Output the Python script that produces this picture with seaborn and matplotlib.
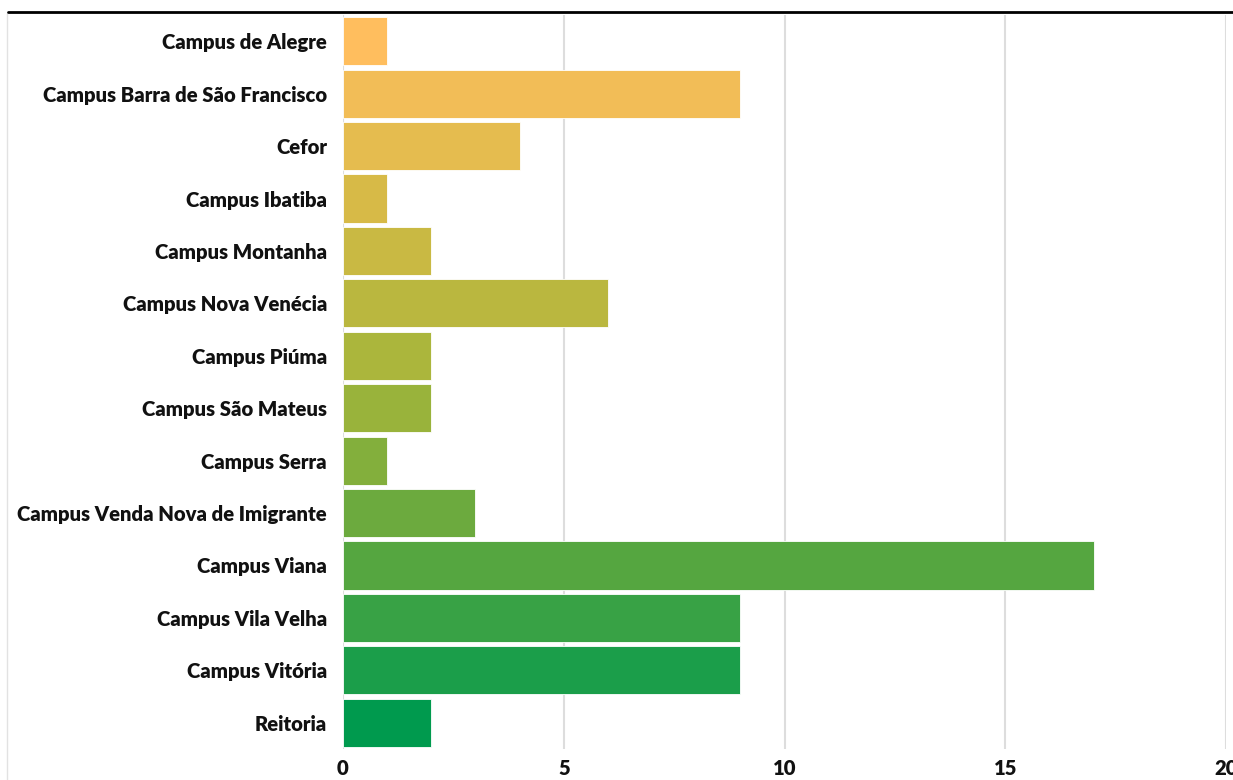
import numpy as np
import pandas as pd
import matplotlib
matplotlib.use("Agg")
import matplotlib.pyplot as plt
from matplotlib.lines import Line2D
import seaborn as sns

# --- data ---
units = [
    "Campus de Alegre",
    "Campus Barra de São Francisco",
    "Cefor",
    "Campus Ibatiba",
    "Campus Montanha",
    "Campus Nova Venécia",
    "Campus Piúma",
    "Campus São Mateus",
    "Campus Serra",
    "Campus Venda Nova de Imigrante",
    "Campus Viana",
    "Campus Vila Velha",
    "Campus Vitória",
    "Reitoria",
]
counts = [1, 9, 4, 1, 2, 6, 2, 2, 1, 3, 17, 9, 9, 2]
x_ticks = [0, 5, 10, 15, 20]

df = pd.DataFrame({"unidade": units, "total": counts})

sns.set_theme(style="white")
plt.rcParams["font.family"] = ["Lato", "DejaVu Sans"]

# orange -> green gradient like the original
pal = sns.blend_palette(["#FFBE5E", "#D4BA45", "#A4B53A", "#5CA73F", "#009A4E"], n_colors=len(units))

fig = plt.figure(figsize=(12.33, 7.8), dpi=100)
ax = fig.add_axes([343 / 1233, 1 - 749 / 780, (1226 - 343) / 1233, (749 - 15) / 780])

sns.barplot(data=df, x="total", y="unidade", hue="unidade", palette=pal,
            legend=False, width=0.92, saturation=1, ax=ax, zorder=3,
            edgecolor="white", linewidth=0.6)

ax.set_xlim(0, 20)
ax.set_ylim(len(units) - 0.5, -0.5)
ax.set_xticks(x_ticks)
ax.set_xticklabels([str(t) for t in x_ticks])
ax.xaxis.grid(True, color="#DDDDDD", linewidth=1.5, zorder=0)
ax.yaxis.grid(False)
for s in ax.spines.values():
    s.set_visible(False)
ax.tick_params(axis="both", length=0, labelsize=14.6)
ax.tick_params(axis="x", pad=7)
ax.tick_params(axis="y", pad=11.5)
for lab in ax.get_xticklabels() + ax.get_yticklabels():
    lab.set_fontweight("heavy")
    lab.set_color("#111111")
ax.set_xlabel("")
ax.set_ylabel("")

# top rule and faint left frame line
fig.add_artist(Line2D([8 / 1233, 1], [1 - 12 / 780, 1 - 12 / 780], color="black", linewidth=2))
fig.add_artist(Line2D([7 / 1233, 7 / 1233], [0, 1 - 13 / 780], color="#E2E2E2", linewidth=1, zorder=0))

fig.savefig("out.png", dpi=100)
